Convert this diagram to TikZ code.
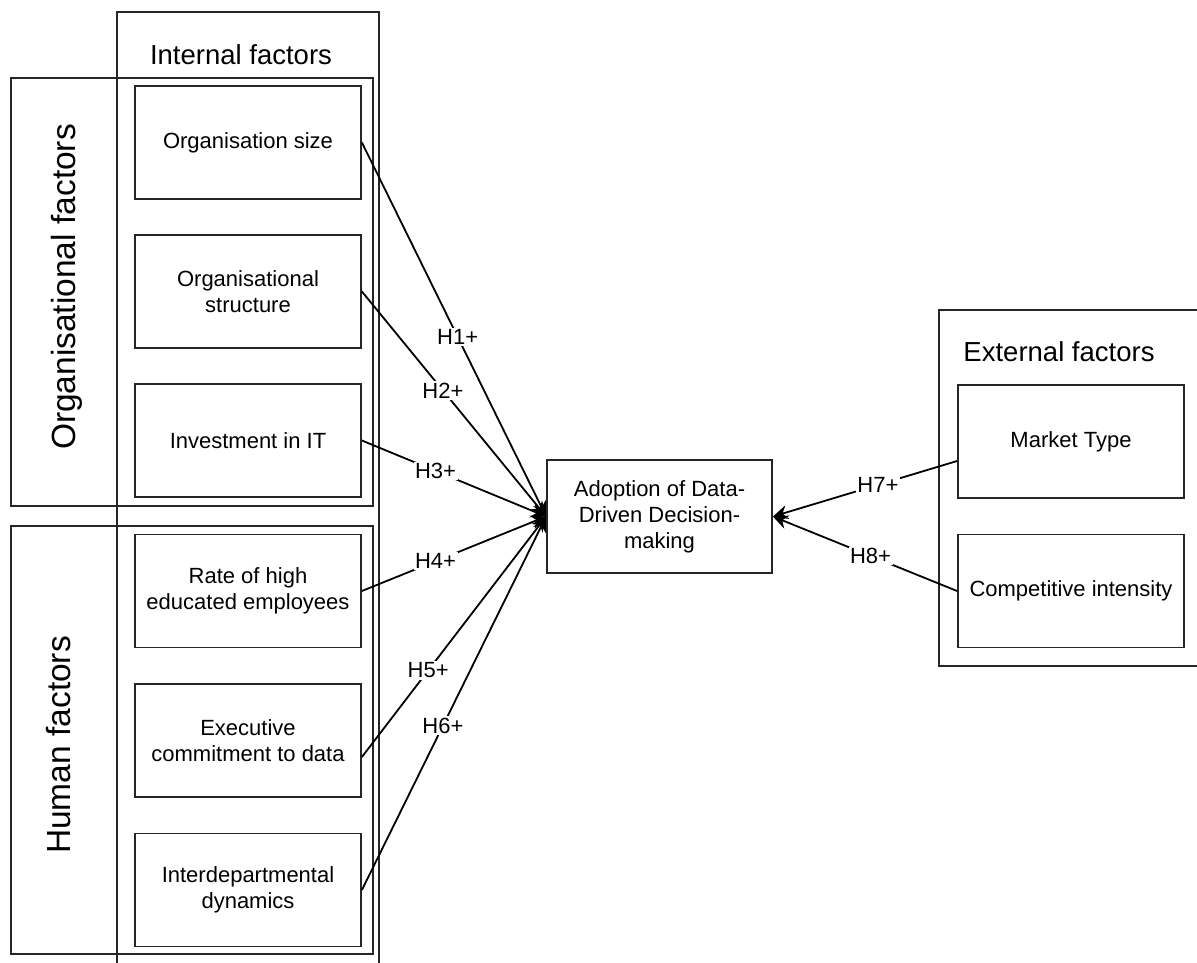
\documentclass[tikz,border=0pt]{standalone}
\usepackage{fontspec}
\setmainfont{Liberation Sans}
\usetikzlibrary{arrows.meta,calc}
\begin{document}
\begin{tikzpicture}[x=1pt,y=-1pt,
  frame/.style={draw=black!85, line width=1.8pt, inner sep=0pt, rectangle},
  item/.style={draw=black!85, line width=1.8pt, minimum width=226pt, minimum height=113pt, inner sep=0pt, align=center, font=\fontsize{22}{26}\selectfont},
  title/.style={font=\fontsize{27.5}{32}\selectfont, inner sep=0pt},
  side/.style={font=\fontsize{33.5}{38}\selectfont, rotate=90, anchor=base, inner sep=0pt},
  hyp/.style={-{Stealth[length=15pt,width=14pt,inset=5pt]}, line width=1.8pt},
  lab/.style={fill=white, inner sep=1.5pt, font=\fontsize{22}{26}\selectfont}
]
\clip (0,0) rectangle (1197,963);

% frames
\node[frame, minimum width=262pt, minimum height=988pt] (internal) at (248,506) {};
\node[frame, minimum width=362pt, minimum height=428pt] (orgf) at (192,292) {};
\node[frame, minimum width=362pt, minimum height=428pt] (humf) at (192,740) {};
\node[frame, minimum width=271pt, minimum height=356pt] (external) at (1074.5,488) {};

% titles
\node[title] (tint) at (241,55) {Internal factors};
\node[title] (text) at (1059,352) {External factors};
\node[side] (torg) at (75,287) {Organisational factors};
\node[side] (thum) at (70,745) {Human factors};

% items
\node[item] (size) at (248,142.5) {Organisation size};
\node[item] (struct) at (248,291.5) {Organisational\\structure};
\node[item] (invest) at (248,440.5) {Investment in IT};
\node[item] (rate) at (248,591) {Rate of high\\educated employees};
\node[item] (exec) at (248,740.5) {Executive\\commitment to data};
\node[item] (inter) at (248,890) {Interdepartmental\\dynamics};

\node[item, minimum width=225pt] (adopt) at (659.5,516.5) {Adoption of Data-\\Driven Decision-\\making};

\node[item] (market) at (1071,441.5) {Market Type};
\node[item] (comp) at (1071,591) {Competitive intensity};

% connector start points
\coordinate (s5) at ([yshift=-16.5pt]exec.east);
\coordinate (s7) at ([yshift=-19.5pt]market.west);

% connectors
\draw[hyp] (size.east) -- node[lab, pos=0.52] (h1) {H1+} (adopt.west);
\draw[hyp] (struct.east) -- node[lab, pos=0.44] (h2) {H2+} (adopt.west);
\draw[hyp] (invest.east) -- node[lab, pos=0.40] (h3) {H3+} (adopt.west);
\draw[hyp] (rate.east) -- node[lab, pos=0.40] (h4) {H4+} (adopt.west);
\draw[hyp] (s5) -- node[lab, pos=0.36] (h5) {H5+} (adopt.west);
\draw[hyp] (inter.east) -- node[lab, pos=0.44] (h6) {H6+} (adopt.west);
\draw[hyp] (s7) -- node[lab, pos=0.43] (h7) {H7+} (adopt.east);
\draw[hyp] (comp.west) -- node[lab, pos=0.47] (h8) {H8+} (adopt.east);
\end{tikzpicture}
\end{document}
